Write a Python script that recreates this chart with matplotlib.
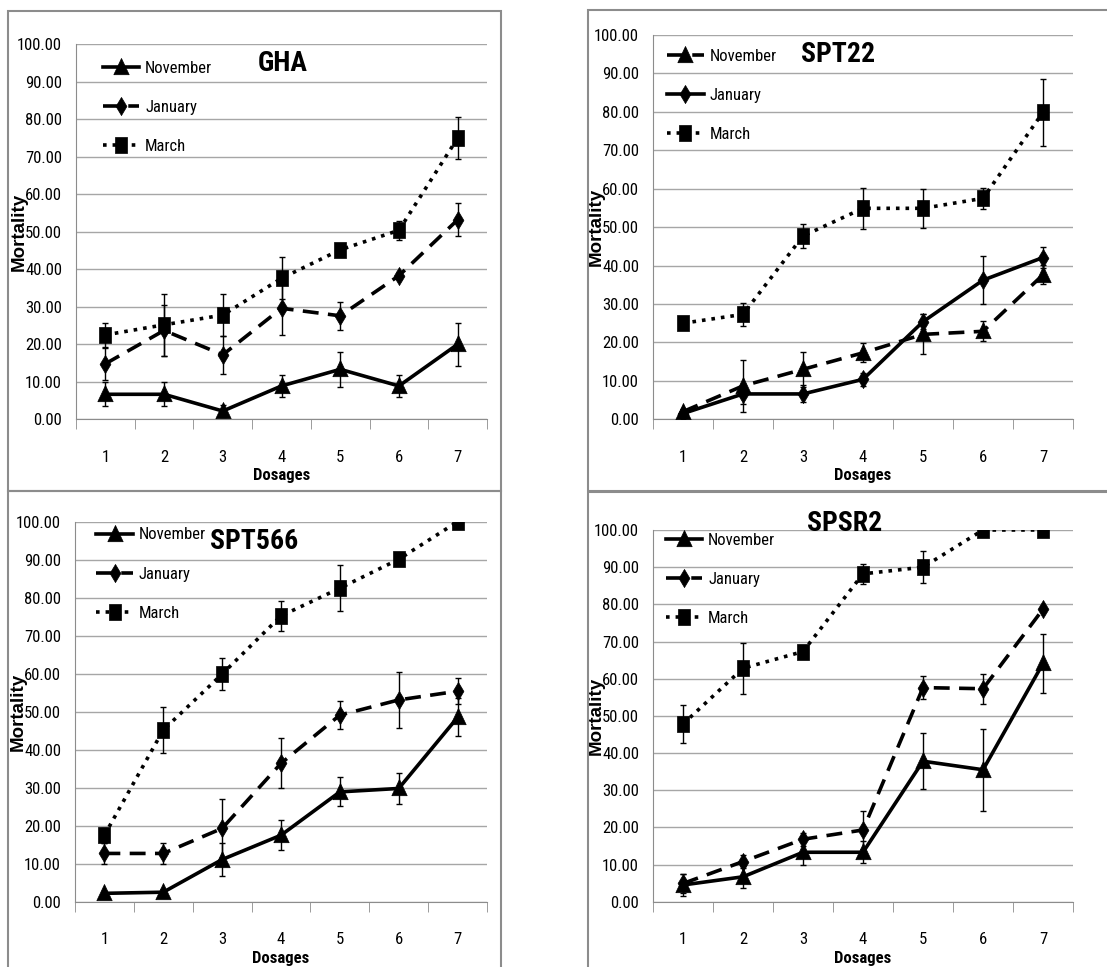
import matplotlib
matplotlib.use("Agg")
import matplotlib.pyplot as plt
from matplotlib.patches import Rectangle
from matplotlib.ticker import FixedLocator

COND = ['Roboto Condensed', 'Fira Sans Condensed', 'IBM Plex Sans Condensed', 'DejaVu Sans']
plt.rcParams['font.family'] = COND

dosages = [1, 2, 3, 4, 5, 6, 7]
yticks = [0, 10, 20, 30, 40, 50, 60, 70, 80, 90, 100]

# GHA
gha_nov = [6.67, 6.67, 2.2, 8.89, 13.33, 8.89, 20.0]
gha_nov_err = [3.2, 3.2, 1.7, 2.9, 4.6, 2.9, 5.7]
gha_jan = [14.8, 23.7, 17.2, 29.6, 27.6, 38.3, 53.2]
gha_jan_err = [4.2, 6.9, 5.0, 7.2, 3.7, 1.0, 4.4]
gha_mar = [22.5, 25.2, 27.8, 37.6, 45.2, 50.4, 75.0]
gha_mar_err = [3.2, 8.2, 5.6, 5.6, 1.5, 2.5, 5.6]

# SPT22
spt22_nov = [2.0, 8.7, 13.0, 17.3, 22.1, 22.9, 37.6]
spt22_nov_err = [0.8, 6.8, 4.5, 2.5, 5.2, 2.6, 2.5]
spt22_jan = [1.5, 6.6, 6.6, 10.4, 25.4, 36.2, 42.1]
spt22_jan_err = [0.5, 2.5, 2.2, 1.7, 2.0, 6.3, 2.8]
spt22_mar = [25.0, 27.3, 47.7, 54.9, 54.9, 57.5, 79.9]
spt22_mar_err = [0.5, 3.0, 3.0, 5.3, 5.1, 2.8, 8.7]

# SPT566
spt566_nov = [2.2, 2.5, 11.1, 17.5, 28.9, 29.8, 48.5]
spt566_nov_err = [0.5, 0.8, 4.3, 3.9, 3.8, 4.0, 5.0]
spt566_jan = [12.7, 12.7, 19.3, 36.4, 49.1, 53.1, 55.4]
spt566_jan_err = [2.7, 2.8, 7.8, 6.6, 3.6, 7.4, 3.5]
spt566_mar = [17.5, 45.2, 59.9, 75.2, 82.5, 90.1, 100.0]
spt566_mar_err = [2.0, 6.0, 4.3, 4.0, 6.1, 0.5, 0.3]

# SPSR2
spsr2_nov = [4.5, 6.7, 13.3, 13.3, 37.8, 35.5, 64.1]
spsr2_nov_err = [3.0, 3.0, 3.5, 3.0, 7.6, 11.0, 7.9]
spsr2_jan = [4.9, 10.8, 16.8, 19.3, 57.6, 57.3, 78.7]
spsr2_jan_err = [2.5, 1.7, 1.7, 5.0, 3.2, 4.0, 0.3]
spsr2_mar = [47.8, 62.8, 67.3, 88.2, 90.0, 100.0, 100.0]
spsr2_mar_err = [5.0, 6.8, 1.3, 2.6, 4.3, 0.3, 0.3]

W, H = 1107, 967
fig = plt.figure(figsize=(W / 100, H / 100), dpi=100)

def frac(x0, y0, x1, y1):
    return [x0 / W, 1 - y1 / H, (x1 - x0) / W, (y1 - y0) / H]

frames = [(8, 11, 501, 491), (588, 10, 1110, 491), (8, 491, 501, 970), (588, 492, 1110, 970)]
for (x0, y0, x1, y1) in frames:
    fig.patches.append(Rectangle((x0 / W, 1 - y1 / H), (x1 - x0) / W, (y1 - y0) / H,
                                 transform=fig.transFigure, fill=False,
                                 edgecolor='#8c8c8c', linewidth=1.5))

SQ = [(-0.68, -1), (0.68, -1), (0.68, 1), (-0.68, 1), (-0.68, -1)]
TRI = [(-0.85, -0.8), (0.85, -0.8), (0, 1), (-0.85, -0.8)]
DIA = [(0, -1), (0.6, 0), (0, 1), (-0.6, 0), (0, -1)]
MK = {'^': (TRI, 13), 'd': (DIA, 13), 's': (SQ, 12)}
DASH = (0, (4.4, 2.6))

panels = [
    dict(box=(76, 44.3, 487, 419.3), title='GHA', tx=0.504, ty=0.95,
         leg=(0.065, 0.956),
         series=[('November', gha_nov, gha_nov_err, '-', '^'),
                 ('January', gha_jan, gha_jan_err, DASH, 'd'),
                 ('March', gha_mar, gha_mar_err, ':', 's')]),
    dict(box=(653, 35, 1073, 419.3), title='SPT22', tx=0.44, ty=0.948,
         leg=(0.033, 0.964),
         series=[('November', spt22_nov, spt22_nov_err, DASH, '^'),
                 ('January', spt22_jan, spt22_jan_err, '-', 'd'),
                 ('March', spt22_mar, spt22_mar_err, ':', 's')]),
    dict(box=(75, 521.7, 487, 901.7), title='SPT566', tx=0.435, ty=0.947,
         leg=(0.052, 0.985),
         series=[('November', spt566_nov, spt566_nov_err, '-', '^'),
                 ('January', spt566_jan, spt566_jan_err, DASH, 'd'),
                 ('March', spt566_mar, spt566_mar_err, ':', 's')]),
    dict(box=(653, 530, 1073, 901.7), title='SPSR2', tx=0.457, ty=1.018,
         leg=(0.03, 0.992),
         series=[('November', spsr2_nov, spsr2_nov_err, '-', '^'),
                 ('January', spsr2_jan, spsr2_jan_err, DASH, 'd'),
                 ('March', spsr2_mar, spsr2_mar_err, ':', 's')]),
]

for p in panels:
    ax = fig.add_axes(frac(*p['box']))
    x0, y0, x1, y1 = p['box']
    wpx, hpx = x1 - x0, y1 - y0
    for name, vals, errs, ls, mk in p['series']:
        ax.errorbar(dosages, vals, yerr=errs, fmt='none', ecolor='black',
                    elinewidth=1.0, capsize=2.2, capthick=1.0, zorder=3)
        verts, ms = MK[mk]
        ax.plot(dosages, vals, linestyle=ls, color='black', linewidth=2.6,
                marker=verts, markersize=ms,
                markerfacecolor='black', markeredgecolor='black', markeredgewidth=0.5,
                label=name, zorder=4)
    ax.set_xlim(0.5, 7.5)
    ax.set_ylim(0, 100)
    ax.set_yticks(yticks)
    ax.set_yticklabels([f'{v:.2f}' for v in yticks])
    ax.set_xticks(dosages)
    ax.set_xticklabels([str(d) for d in dosages])
    ax.xaxis.set_minor_locator(FixedLocator([0.5 + i for i in range(8)]))
    ax.tick_params(axis='x', which='major', length=0, pad=22, labelsize=12)
    ax.tick_params(axis='x', which='minor', length=7, color='#8c8c8c', direction='out')
    ax.tick_params(axis='y', which='major', length=0, pad=10, labelsize=12)
    ax.grid(axis='y', color='#a6a6a6', linewidth=1.0, zorder=0)
    ax.set_axisbelow(True)
    for s in ['top', 'right']:
        ax.spines[s].set_visible(False)
    ax.spines['left'].set_color('#8c8c8c')
    ax.spines['bottom'].set_color('#8c8c8c')
    ax.set_xlabel('Dosages', fontsize=12, fontweight='bold')
    ax.xaxis.set_label_coords(0.5, -49 / hpx)
    ax.set_ylabel('Mortality', fontsize=13.5, fontweight='bold',
                  family=['Liberation Sans', 'DejaVu Sans'])
    ax.yaxis.set_label_coords(-48 / wpx, 0.5)
    ax.text(p['tx'], p['ty'], p['title'], transform=ax.transAxes, fontsize=20,
            fontweight='bold', ha='center', va='center')
    ax.legend(loc='upper left', bbox_to_anchor=p['leg'],
              frameon=False, fontsize=12, handlelength=2.2, handletextpad=0.35,
              labelspacing=1.45, borderaxespad=0, borderpad=0)

fig.savefig('out.png', dpi=100)
